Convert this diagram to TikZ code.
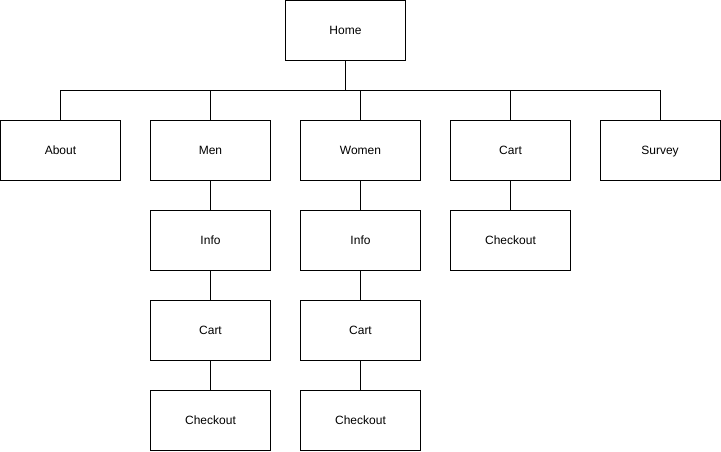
\documentclass[tikz,border=0pt]{standalone}
\usepackage{fontspec}
\setmainfont{Liberation Sans}
\begin{document}
\begin{tikzpicture}[x=1pt,y=-1pt,
  box/.style={draw=black,line width=0.9pt,minimum width=120pt,minimum height=60pt,inner sep=0pt,text height=8.6pt,text depth=1.6pt,font=\fontsize{12}{14}\selectfont},
  link/.style={draw=black,line width=0.9pt}]
\useasboundingbox (0,0) rectangle (721,451);
\node[box] (home) at (345.5,30.5) {Home};
\node[box] (about) at (60.5,150.5) {About};
\node[box] (men) at (210.5,150.5) {Men};
\node[box] (women) at (360.5,150.5) {Women};
\node[box] (cart) at (510.5,150.5) {Cart};
\node[box] (survey) at (660,150.5) {Survey};
\node[box] (meninfo) at (210.5,240.5) {Info};
\node[box] (womeninfo) at (360.5,240.5) {Info};
\node[box] (cartcheckout) at (510.5,240.5) {Checkout};
\node[box] (mencart) at (210.5,330.5) {Cart};
\node[box] (womencart) at (360.5,330.5) {Cart};
\node[box] (mencheckout) at (210.5,420.5) {Checkout};
\node[box] (womencheckout) at (360.5,420.5) {Checkout};
\coordinate (bus) at (0,90.5);
\foreach \c in {about,men,women,cart,survey}
  \draw[link] (home.south) -- (home.south |- bus) -| (\c.north);
\draw[link] (men) -- (meninfo);
\draw[link] (meninfo) -- (mencart);
\draw[link] (mencart) -- (mencheckout);
\draw[link] (women) -- (womeninfo);
\draw[link] (womeninfo) -- (womencart);
\draw[link] (womencart) -- (womencheckout);
\draw[link] (cart) -- (cartcheckout);
\end{tikzpicture}
\end{document}
